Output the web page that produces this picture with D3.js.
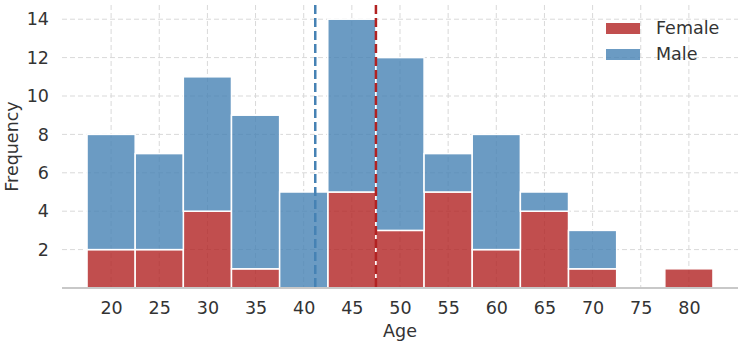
<!DOCTYPE html>
<html>
<head>
<meta charset="utf-8">
<script src="https://cdn.jsdelivr.net/npm/d3@7"></script>
<style>
  body { margin: 0; background: #fff; }
  text { font-family: "DejaVu Sans", sans-serif; fill: #333; }
</style>
</head>
<body>
<svg id="chart" width="744" height="347"></svg>
<script>
const binCenters = [20, 25, 30, 35, 40, 45, 50, 55, 60, 65, 70, 75, 80];
const femaleCounts = [2, 2, 4, 1, 0, 5, 3, 5, 2, 4, 1, 0, 1];
const maleCounts = [6, 5, 7, 8, 5, 9, 9, 2, 6, 1, 2, 0, 0];
const xTicks = [20, 25, 30, 35, 40, 45, 50, 55, 60, 65, 70, 75, 80];
const yTicks = [2, 4, 6, 8, 10, 12, 14];
const maleMean = 41.2;
const femaleMean = 47.5;
const binWidth = 5;

const svg = d3.select("#chart");
const m = {left: 62, right: 6, top: 5, bottom: 59};
const W = 744, H = 347;
const fs = 17.5;

const x = d3.scaleLinear().domain([14.9, 85.1]).range([m.left, W - m.right]);
const y = d3.scaleLinear().domain([0, 14.74]).range([H - m.bottom, m.top]);

const red = "#b22222", blue = "#4682b4";

// grid
const grid = svg.append("g").attr("stroke", "#d9d9d9").attr("stroke-width", 1)
  .attr("stroke-dasharray", "5,3");
grid.selectAll(".vg").data(xTicks).enter().append("line")
  .attr("x1", d => x(d)).attr("x2", d => x(d))
  .attr("y1", m.top).attr("y2", H - m.bottom);
grid.selectAll(".hg").data(yTicks).enter().append("line")
  .attr("x1", m.left).attr("x2", W - m.right)
  .attr("y1", d => y(d)).attr("y2", d => y(d));

// stacked bars
const rows = binCenters.map((c, i) => ({c, f: femaleCounts[i], m: maleCounts[i]}));

svg.append("g").selectAll("rect").data(rows.filter(d => d.f > 0)).enter().append("rect")
  .attr("x", d => x(d.c - binWidth / 2))
  .attr("width", d => x(d.c + binWidth / 2) - x(d.c - binWidth / 2))
  .attr("y", d => y(d.f))
  .attr("height", d => y(0) - y(d.f))
  .attr("fill", red).attr("fill-opacity", 0.8)
  .attr("stroke", "#fff").attr("stroke-width", 1.5);

svg.append("g").selectAll("rect").data(rows.filter(d => d.m > 0)).enter().append("rect")
  .attr("x", d => x(d.c - binWidth / 2))
  .attr("width", d => x(d.c + binWidth / 2) - x(d.c - binWidth / 2))
  .attr("y", d => y(d.f + d.m))
  .attr("height", d => y(d.f) - y(d.f + d.m))
  .attr("fill", blue).attr("fill-opacity", 0.8)
  .attr("stroke", "#fff").attr("stroke-width", 1.5);

// mean lines
[[maleMean, blue], [femaleMean, red]].forEach(([v, col]) => {
  svg.append("line")
    .attr("x1", x(v)).attr("x2", x(v))
    .attr("y1", m.top).attr("y2", H - m.bottom)
    .attr("stroke", col).attr("stroke-width", 2.5)
    .attr("stroke-dasharray", "9,4");
});

// bottom spine
svg.append("line")
  .attr("x1", m.left).attr("x2", W - m.right)
  .attr("y1", H - m.bottom).attr("y2", H - m.bottom)
  .attr("stroke", "#c8c8c8").attr("stroke-width", 2);

// axes
const xAxis = svg.append("g").attr("transform", `translate(0,${H - m.bottom})`)
  .call(d3.axisBottom(x).tickValues(xTicks).tickSize(0).tickPadding(14));
xAxis.select(".domain").remove();
xAxis.selectAll("text").attr("font-size", fs).style("fill", "#333");

const yAxis = svg.append("g").attr("transform", `translate(${m.left},0)`)
  .call(d3.axisLeft(y).tickValues(yTicks).tickSize(0).tickPadding(13));
yAxis.select(".domain").remove();
yAxis.selectAll("text").attr("font-size", fs).style("fill", "#333");

svg.append("text").attr("x", (m.left + W - m.right) / 2).attr("y", 337)
  .attr("text-anchor", "middle").attr("font-size", fs).text("Age");
svg.append("text").attr("transform", `translate(18,${(m.top + H - m.bottom) / 2}) rotate(-90)`)
  .attr("text-anchor", "middle").attr("font-size", fs).text("Frequency");

// legend
const legend = svg.append("g").attr("transform", "translate(606,20)");
[["Female", red], ["Male", blue]].forEach(([lab, col], i) => {
  legend.append("rect").attr("x", 0).attr("y", i * 26 + 3).attr("width", 34).attr("height", 11)
    .attr("fill", col).attr("fill-opacity", 0.8);
  legend.append("text").attr("x", 50).attr("y", i * 26 + 14).attr("font-size", fs).text(lab);
});
</script>
</body>
</html>
